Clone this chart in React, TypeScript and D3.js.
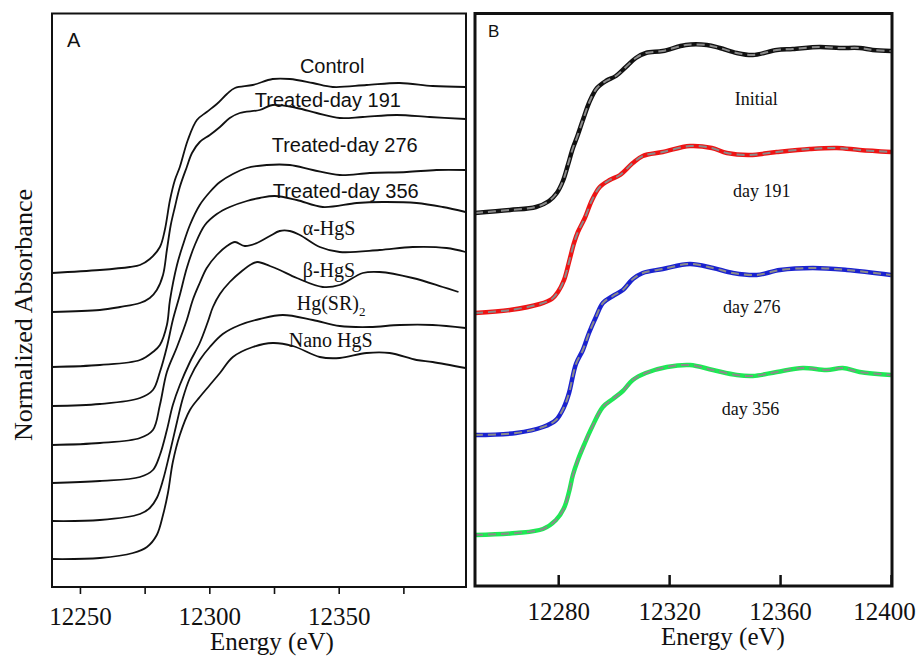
import React, { useEffect, useRef } from 'react'
import * as d3 from 'd3'

type Pt = [number, number]

// Panel A – stacked XANES spectra (energy eV, offset normalized absorbance)
const control: Pt[] = [
  [12239.2, 3.14], [12257.7, 3.17], [12269.3, 3.2], [12273.2, 3.22], [12277.0, 3.28], [12280.9, 3.4],
  [12282.8, 3.57], [12284.8, 3.87], [12286.7, 4.07], [12288.6, 4.2], [12291.7, 4.47], [12295.2, 4.67],
  [12299.0, 4.75], [12302.9, 4.83], [12306.8, 4.93], [12309.9, 4.99], [12316.8, 5.02], [12324.5, 5.08],
  [12331.1, 5.08], [12340.0, 5.04], [12347.7, 5.0], [12360.8, 5.02], [12373.6, 5.04], [12386.3, 5.01],
  [12399.0, 5.0],
]
const day191: Pt[] = [
  [12239.2, 2.75], [12257.7, 2.77], [12265.5, 2.8], [12273.2, 2.84], [12277.0, 2.89], [12279.7, 2.97],
  [12282.1, 3.12], [12283.6, 3.37], [12285.1, 3.62], [12286.7, 3.8], [12288.6, 4.0], [12291.3, 4.2],
  [12293.3, 4.34], [12296.3, 4.45], [12300.2, 4.52], [12304.1, 4.6], [12307.9, 4.69], [12311.8, 4.74],
  [12319.5, 4.77], [12324.5, 4.82], [12333.8, 4.79], [12341.5, 4.74], [12350.4, 4.69], [12359.3, 4.7],
  [12372.4, 4.72], [12385.1, 4.7], [12399.0, 4.68],
]
const day276: Pt[] = [
  [12239.2, 2.2], [12257.7, 2.22], [12273.2, 2.27], [12278.2, 2.35], [12280.9, 2.42], [12283.6, 2.62],
  [12284.8, 2.87], [12287.5, 3.22], [12289.8, 3.42], [12292.5, 3.62], [12296.3, 3.82], [12300.2, 3.95],
  [12304.1, 4.05], [12309.1, 4.13], [12314.5, 4.19], [12322.2, 4.22], [12331.1, 4.22], [12340.0, 4.17],
  [12350.4, 4.12], [12362.0, 4.14], [12376.3, 4.15], [12387.8, 4.17], [12399.0, 4.17],
]
const day356: Pt[] = [
  [12239.2, 1.81], [12257.7, 1.83], [12273.2, 1.89], [12278.2, 1.97], [12280.9, 2.15], [12283.6, 2.4],
  [12285.9, 2.67], [12288.6, 2.92], [12291.3, 3.19], [12294.4, 3.42], [12298.3, 3.62], [12302.9, 3.73],
  [12307.9, 3.8], [12314.5, 3.86], [12319.5, 3.89], [12325.3, 3.91], [12333.8, 3.87], [12343.8, 3.8],
  [12357.0, 3.84], [12367.0, 3.85], [12380.1, 3.84], [12390.2, 3.8], [12399.0, 3.75],
]
const alphaHgS: Pt[] = [
  [12239.2, 1.42], [12257.7, 1.44], [12273.2, 1.49], [12278.2, 1.57], [12280.9, 1.82], [12283.6, 2.15],
  [12287.5, 2.4], [12291.3, 2.67], [12293.6, 2.87], [12296.3, 3.04], [12299.0, 3.19], [12302.9, 3.32],
  [12306.8, 3.41], [12309.9, 3.45], [12313.7, 3.41], [12318.4, 3.44], [12323.4, 3.51], [12327.2, 3.56],
  [12331.1, 3.56], [12335.0, 3.52], [12342.7, 3.4], [12350.4, 3.35], [12365.8, 3.37], [12378.6, 3.4],
  [12391.7, 3.39], [12399.0, 3.35],
]
const betaHgS: Pt[] = [
  [12239.2, 1.04], [12257.7, 1.06], [12273.2, 1.1], [12278.2, 1.17], [12280.9, 1.32], [12283.6, 1.57],
  [12285.9, 1.82], [12288.6, 2.02], [12292.5, 2.25], [12296.3, 2.44], [12299.4, 2.65], [12301.4, 2.8],
  [12304.1, 2.93], [12307.9, 3.05], [12312.6, 3.16], [12316.4, 3.23], [12318.7, 3.25], [12323.4, 3.21],
  [12327.2, 3.17], [12333.8, 3.09], [12343.8, 3.0], [12350.4, 3.02], [12359.3, 3.14], [12365.8, 3.15],
  [12378.6, 3.09], [12390.2, 3.0], [12396.3, 2.95],
]
const hgSR2: Pt[] = [
  [12239.2, 0.66], [12257.7, 0.67], [12273.2, 0.73], [12277.0, 0.79], [12279.7, 0.89], [12282.1, 1.07],
  [12284.8, 1.35], [12287.5, 1.65], [12289.8, 1.89], [12292.5, 2.09], [12296.3, 2.27], [12300.2, 2.4],
  [12305.2, 2.53], [12311.8, 2.62], [12319.5, 2.68], [12328.4, 2.72], [12340.0, 2.67], [12350.4, 2.61],
  [12362.0, 2.6], [12373.6, 2.62], [12386.3, 2.62], [12399.0, 2.59],
]
const nanoHgS: Pt[] = [
  [12239.2, 0.28], [12257.7, 0.29], [12270.5, 0.34], [12275.9, 0.4], [12279.7, 0.52], [12282.1, 0.72],
  [12284.0, 0.94], [12285.9, 1.25], [12288.6, 1.52], [12292.5, 1.77], [12296.3, 1.9], [12300.2, 2.02],
  [12304.1, 2.14], [12309.1, 2.3], [12316.8, 2.4], [12324.5, 2.44], [12332.3, 2.41], [12342.7, 2.3],
  [12350.4, 2.29], [12360.8, 2.34], [12369.7, 2.34], [12380.1, 2.27], [12386.3, 2.25], [12399.0, 2.19],
]

// Panel B – sample spectra (fit drawn dashed over them)
const initialB: Pt[] = [
  [12250.0, 3.73], [12262.6, 3.76], [12272.0, 3.79], [12276.7, 3.85], [12279.5, 3.93], [12281.7, 4.05],
  [12283.5, 4.21], [12285.3, 4.38], [12286.8, 4.49], [12288.9, 4.66], [12291.4, 4.85], [12294.0, 4.98],
  [12297.2, 5.05], [12300.8, 5.1], [12304.4, 5.19], [12308.0, 5.28], [12311.6, 5.33], [12317.7, 5.35],
  [12326.0, 5.41], [12333.6, 5.41], [12338.3, 5.38], [12344.4, 5.33], [12350.2, 5.31], [12358.8, 5.36],
  [12364.6, 5.37], [12374.3, 5.39], [12381.5, 5.38], [12388.7, 5.38], [12393.4, 5.36], [12400.0, 5.35],
]
const day191B: Pt[] = [
  [12250.0, 2.73], [12262.6, 2.76], [12273.4, 2.82], [12277.7, 2.87], [12279.9, 2.94], [12282.1, 3.06],
  [12283.9, 3.24], [12285.7, 3.43], [12287.1, 3.54], [12289.6, 3.68], [12292.2, 3.86], [12295.0, 3.99],
  [12298.6, 4.06], [12302.3, 4.11], [12306.9, 4.23], [12310.5, 4.3], [12317.7, 4.34], [12327.5, 4.4],
  [12335.4, 4.38], [12340.8, 4.33], [12349.1, 4.31], [12358.8, 4.34], [12370.7, 4.37], [12380.5, 4.38],
  [12388.7, 4.36], [12400.0, 4.34],
]
const day276B: Pt[] = [
  [12250.0, 1.51], [12264.8, 1.53], [12274.5, 1.59], [12279.2, 1.66], [12282.1, 1.79], [12283.9, 1.93],
  [12286.4, 2.22], [12288.9, 2.36], [12291.1, 2.53], [12293.6, 2.69], [12296.1, 2.83], [12299.7, 2.9],
  [12303.3, 2.96], [12306.9, 3.07], [12310.5, 3.13], [12317.7, 3.17], [12327.5, 3.22], [12335.8, 3.18],
  [12343.0, 3.13], [12351.6, 3.11], [12359.9, 3.16], [12371.8, 3.18], [12384.1, 3.16], [12400.0, 3.11],
]
const day356B: Pt[] = [
  [12250.0, 0.51], [12264.8, 0.53], [12274.5, 0.57], [12279.2, 0.66], [12282.1, 0.78], [12283.9, 0.94],
  [12285.3, 1.11], [12287.1, 1.26], [12289.3, 1.41], [12292.2, 1.59], [12296.1, 1.79], [12299.7, 1.87],
  [12303.3, 1.95], [12306.9, 2.06], [12311.6, 2.13], [12319.2, 2.19], [12327.5, 2.21], [12335.8, 2.16],
  [12344.4, 2.11], [12350.2, 2.1], [12358.8, 2.14], [12368.2, 2.18], [12376.8, 2.16], [12382.6, 2.18],
  [12388.7, 2.14], [12400.0, 2.11],
]

const seriesA = [control, day191, day276, day356, alphaHgS, betaHgS, hgSR2, nanoHgS]
const seriesB = [initialB, day191B, day276B, day356B]
const colorsB = ['#111111', '#ee1414', '#1a22d0', '#1ee854']

const ticksA = [12250, 12275, 12300, 12325, 12350, 12375]
const majorA = [12250, 12300, 12350]
const ticksB = [12280, 12320, 12360, 12400]

const sansLabelsA = ['Control', 'Treated-day 191', 'Treated-day 276', 'Treated-day 356']
const serifLabelsA = ['α-HgS', 'β-HgS', 'Hg(SR)', 'Nano HgS']
const labelsB = ['Initial', 'day 191', 'day 276', 'day 356']

export default function App() {
  const d3Container = useRef<SVGSVGElement>(null)

  useEffect(() => {
    const svg = d3.select(d3Container.current)
    svg.selectAll('*').remove()

    const serif = '"Liberation Serif", "Times New Roman", serif'
    const sans = '"Liberation Sans", Arial, sans-serif'
    const ink = '#111'

    //---- panel A
    const xA = d3.scaleLinear().domain([12239.2, 12399.2]).range([52, 466])
    const yA = d3.scaleLinear().domain([0, 5.73]).range([587, 14])

    const lineA = d3.line<Pt>()
      .x(d => xA(d[0]))
      .y(d => yA(d[1]))
      .curve(d3.curveCatmullRom.alpha(0.5))

    seriesA.forEach(s => {
      svg.append('path')
        .datum(s)
        .attr('d', lineA)
        .attr('fill', 'none')
        .attr('stroke', ink)
        .attr('stroke-width', 1.8)
    })

    svg.append('rect')
      .attr('x', 52).attr('y', 13.5)
      .attr('width', 414).attr('height', 573.5)
      .attr('fill', 'none').attr('stroke', ink).attr('stroke-width', 2)

    const gA = svg.append('g')
      .attr('transform', 'translate(0,587)')
      .call(d3.axisBottom(xA).tickValues(ticksA).tickSize(7).tickPadding(13)
        .tickFormat(d => (majorA.includes(+d) ? String(d) : '')))
    gA.select('.domain').remove()
    gA.selectAll('.tick line').attr('stroke', ink).attr('stroke-width', 1.6)
    gA.selectAll('.tick text')
      .attr('font-family', serif).attr('font-size', 25).attr('fill', ink)

    // curve labels A (anchored in data units)
    const sansPos: Pt[] = [[12335.0, 5.14], [12317.6, 4.8], [12324.1, 4.35], [12324.5, 3.89]]
    sansLabelsA.forEach((t, i) => {
      svg.append('text')
        .attr('x', xA(sansPos[i][0])).attr('y', yA(sansPos[i][1]))
        .attr('font-family', sans).attr('font-size', 20).attr('fill', ink)
        .text(t)
    })
    const serifPos: Pt[] = [[12336.1, 3.52], [12336.1, 3.1], [12333.8, 2.77], [12330.7, 2.4]]
    serifLabelsA.forEach((t, i) => {
      const txt = svg.append('text')
        .attr('x', xA(serifPos[i][0])).attr('y', yA(serifPos[i][1]))
        .attr('font-family', serif).attr('font-size', 20).attr('fill', ink)
        .text(t)
      if (t === 'Hg(SR)') {
        txt.append('tspan').attr('font-size', 13).attr('dy', 6).text('2')
      }
    })

    svg.append('text')
      .attr('x', 67).attr('y', 47)
      .attr('font-family', sans).attr('font-size', 20).attr('fill', ink)
      .text('A')

    svg.append('text')
      .attr('x', 272).attr('y', 650)
      .attr('text-anchor', 'middle')
      .attr('font-family', serif).attr('font-size', 25).attr('fill', ink)
      .text('Energy (eV)')

    svg.append('text')
      .attr('transform', 'translate(32,315) rotate(-90)')
      .attr('text-anchor', 'middle')
      .attr('font-family', serif).attr('font-size', 26).attr('fill', ink)
      .text('Normalized Absorbance')

    //---- panel B
    const xB = d3.scaleLinear().domain([12250, 12400]).range([475, 891])
    const yB = d3.scaleLinear().domain([0, 5.73]).range([586, 13])

    const lineB = d3.line<Pt>()
      .x(d => xB(d[0]))
      .y(d => yB(d[1]))
      .curve(d3.curveCatmullRom.alpha(0.5))

    seriesB.forEach((s, i) => {
      svg.append('path')
        .datum(s)
        .attr('d', lineB)
        .attr('fill', 'none')
        .attr('stroke', colorsB[i])
        .attr('stroke-width', 4.5)
      // fit, dashed grey
      svg.append('path')
        .datum(s)
        .attr('d', lineB)
        .attr('fill', 'none')
        .attr('stroke', '#8a8a8a')
        .attr('stroke-width', 2)
        .attr('stroke-dasharray', '8,5')
    })

    svg.append('rect')
      .attr('x', 475).attr('y', 13.5)
      .attr('width', 417).attr('height', 572.5)
      .attr('fill', 'none').attr('stroke', ink).attr('stroke-width', 3)

    const gB = svg.append('g')
      .attr('transform', 'translate(0,586)')
      .call(d3.axisBottom(xB).tickValues(ticksB).tickSizeInner(-11).tickSizeOuter(0).tickPadding(16)
        .tickFormat(d => String(d)))
    gB.select('.domain').remove()
    gB.selectAll('.tick line').attr('stroke', ink).attr('stroke-width', 2.5)
    gB.selectAll('.tick text')
      .attr('font-family', serif).attr('font-size', 25).attr('fill', ink)
      .attr('dx', d => (+(d as number) === 12400 ? -7 : 0))

    const posB: Pt[] = [[12343.7, 4.81], [12343.0, 3.89], [12339.4, 2.73], [12339.0, 1.71]]
    labelsB.forEach((t, i) => {
      svg.append('text')
        .attr('x', xB(posB[i][0])).attr('y', yB(posB[i][1]))
        .attr('font-family', serif).attr('font-size', 18).attr('fill', ink)
        .text(t)
    })

    svg.append('text')
      .attr('x', 488).attr('y', 37)
      .attr('font-family', sans).attr('font-size', 17).attr('fill', ink)
      .text('B')

    svg.append('text')
      .attr('x', 723).attr('y', 645)
      .attr('text-anchor', 'middle')
      .attr('font-family', serif).attr('font-size', 25).attr('fill', ink)
      .text('Energy (eV)')

    return () => {
      svg.selectAll('*').remove()
    }
  }, [])

  return (
    <svg
      ref={d3Container}
      width={921}
      height={658}
      style={{ position: 'absolute', left: 0, top: 0, background: '#fff' }}
    />
  )
}
